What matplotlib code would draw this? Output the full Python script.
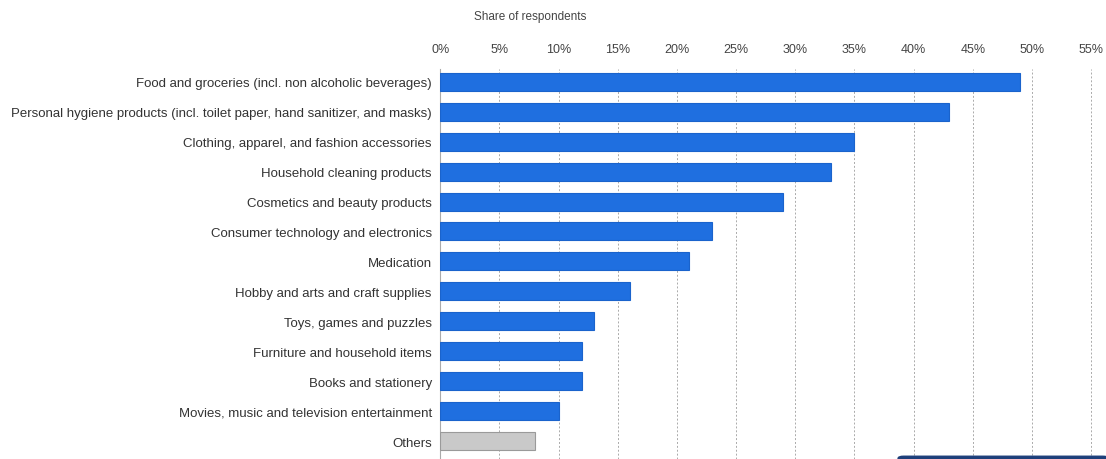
import matplotlib.pyplot as plt
import matplotlib.patches as patches
import numpy as np

# categories top to bottom
categories = [
    "Food and groceries (incl. non alcoholic beverages)",
    "Personal hygiene products (incl. toilet paper, hand sanitizer, and masks)",
    "Clothing, apparel, and fashion accessories",
    "Household cleaning products",
    "Cosmetics and beauty products",
    "Consumer technology and electronics",
    "Medication",
    "Hobby and arts and craft supplies",
    "Toys, games and puzzles",
    "Furniture and household items",
    "Books and stationery",
    "Movies, music and television entertainment",
    "Others",
]
shares = [49, 43, 35, 33, 29, 23, 21, 16, 13, 12, 12, 10, 8]
xticks = [0, 5, 10, 15, 20, 25, 30, 35, 40, 45, 50, 55]
xtick_labels = [str(t) + "%" for t in xticks]

plt.rcParams['font.family'] = ['Liberation Sans', 'DejaVu Sans']

fig = plt.figure(figsize=(11.06, 4.6), dpi=100)
ax = fig.add_axes([0.398, 0.0, 0.594, 0.848])

y = np.arange(len(categories))
colors = ['#1f6fe0'] * (len(categories) - 1) + ['#c9c9c9']
edges = ['#1a63cc'] * (len(categories) - 1) + ['#9a9a9a']
ax.barh(y, shares, height=0.6, color=colors, edgecolor=edges, linewidth=0.8, zorder=3)

ax.set_ylim(12.6, -0.43)
ax.set_xlim(0, 55.5)
ax.set_yticks(y)
ax.set_yticklabels(categories, fontsize=9.5, color='#333333')
ax.set_xticks(xticks)
ax.set_xticklabels(xtick_labels, fontsize=9, color='#444444')
ax.xaxis.tick_top()
ax.tick_params(axis='x', length=0, pad=10)
ax.tick_params(axis='y', length=0, pad=6)

ax.grid(axis='x', linestyle=(0, (2, 2)), color='#aaaaaa', linewidth=0.7, zorder=0)
for s in ['top', 'right', 'bottom']:
    ax.spines[s].set_visible(False)
ax.spines['left'].set_color('#aaaaaa')

fig.text(0.479, 0.963, "Share of respondents", fontsize=8.5, color='#444444', ha='center', va='center')

# dark strip at bottom right
fig.patches.append(patches.FancyBboxPatch((0.812, -0.02), 0.19, 0.026, boxstyle="round,pad=0,rounding_size=0.005",
                                          transform=fig.transFigure, color='#1d3f7a', zorder=5))

fig.savefig("out.png", dpi=100)
